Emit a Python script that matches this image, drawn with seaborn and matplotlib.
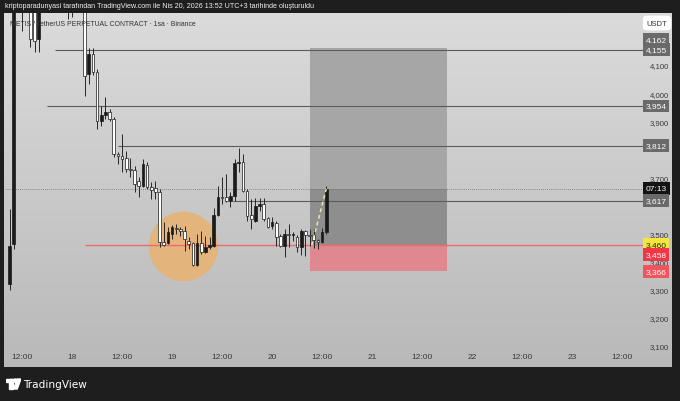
import numpy as np
import pandas as pd
import matplotlib
matplotlib.use('Agg')
import matplotlib.pyplot as plt
import matplotlib.transforms as mtransforms
from matplotlib import font_manager
from matplotlib.colors import LinearSegmentedColormap
from matplotlib.patches import Polygon, Rectangle, Circle
import seaborn as sns

sns.set_theme(style="white")
plt.rcParams['font.family'] = ['DejaVu Sans']

installed = {f.name for f in font_manager.fontManager.ttflist}
narrow = 'Liberation Sans Narrow' if 'Liberation Sans Narrow' in installed else 'Liberation Sans'

# saat: 17 Nisan 00:00'dan itibaren geçen saat (1sa mumlar)
hours = list(range(9, 86))
opens = [3321, 3463, 4310, 4330, 4300, 4320, 4290, 4193, 4300, 4350,
         4330, 4380, 4360, 4340, 4320, 4300, 4310, 4330, 4310, 4068,
         4139, 4075, 3901, 3922, 3933, 3908, 3783, 3776, 3769, 3730,
         3726, 3687, 3669, 3744, 3666, 3662, 3648, 3470, 3466, 3498,
         3520, 3516, 3509, 3473, 3466, 3388, 3466, 3434, 3452, 3456,
         3566, 3630, 3630, 3616, 3634, 3751, 3755, 3652, 3566, 3545,
         3598, 3605, 3555, 3527, 3538, 3491, 3456, 3499, 3495, 3488,
         3452, 3509, 3495, 3495, 3477, 3470, 3506]
highs = [3588, 4400, 4420, 4390, 4360, 4350, 4310, 4330, 4380, 4390,
         4410, 4400, 4390, 4370, 4350, 4340, 4360, 4350, 4320, 4160,
         4160, 4086, 3954, 3986, 3943, 3915, 3790, 3854, 3794, 3769,
         3740, 3701, 3765, 3755, 3684, 3687, 3659, 3541, 3523, 3531,
         3534, 3523, 3527, 3488, 3470, 3499, 3509, 3491, 3488, 3590,
         3669, 3701, 3712, 3648, 3765, 3805, 3783, 3659, 3623, 3627,
         3627, 3627, 3559, 3559, 3545, 3499, 3516, 3534, 3506, 3495,
         3516, 3512, 3516, 3516, 3481, 3520, 3669]
lows = [3300, 3445, 4290, 4221, 4288, 4164, 4146, 4146, 4295, 4310,
        4320, 4330, 4310, 4300, 4264, 4271, 4295, 4290, 3990, 4032,
        4064, 3872, 3883, 3908, 3901, 3773, 3748, 3719, 3719, 3701,
        3648, 3630, 3666, 3659, 3623, 3623, 3452, 3456, 3463, 3481,
        3499, 3491, 3438, 3445, 3385, 3385, 3427, 3431, 3445, 3452,
        3562, 3605, 3612, 3595, 3616, 3719, 3648, 3545, 3516, 3541,
        3580, 3545, 3520, 3516, 3456, 3452, 3417, 3452, 3474, 3434,
        3424, 3420, 3456, 3449, 3445, 3466, 3499]
closes = [3456, 4310, 4330, 4300, 4320, 4193, 4185, 4300, 4350, 4330,
          4380, 4360, 4340, 4320, 4300, 4310, 4330, 4310, 4061, 4139,
          4075, 3901, 3922, 3933, 3908, 3783, 3776, 3765, 3730, 3726,
          3676, 3669, 3748, 3666, 3655, 3648, 3470, 3459, 3506, 3523,
          3516, 3509, 3481, 3463, 3388, 3466, 3434, 3452, 3459, 3566,
          3630, 3627, 3616, 3634, 3751, 3755, 3652, 3563, 3552, 3598,
          3605, 3552, 3524, 3541, 3488, 3456, 3499, 3495, 3498, 3452,
          3509, 3495, 3491, 3477, 3470, 3506, 3659]

# yatay seviyeler (fiyat, başladığı saat)
level_prices = [4155, 3954, 3812, 3617]
level_starts = [20, 18, 35, 62.5]
red_level = 3460
red_start = 27

# long pozisyon aracı
pos_start, pos_end = 81, 114
pos_target, pos_entry, pos_stop = 4162, 3458, 3366

# turuncu daire
circle_t, circle_p = 50.6, 3456

xtick_pos = [12, 24, 36, 48, 60, 72, 84, 96, 108, 120, 132, 144, 156]
xtick_labels = ['12:00', '18', '12:00', '19', '12:00', '20', '12:00',
                '21', '12:00', '22', '12:00', '23', '12:00']
# etiket kutularinin altinda kalanlar (3600, 3800, 4200) yazilmiyor
ytick_pos = [3100, 3200, 3300, 3400, 3500, 3700, 3900, 4000, 4100]

df = pd.DataFrame({'t': hours, 'o': opens, 'h': highs, 'l': lows, 'c': closes})
last_close = closes[-1]

W, H = 680, 402
fig = plt.figure(figsize=(6.8, 4.02), dpi=100, facecolor='#1e1e1e')

# panel arka plani (gradyan)
bg = fig.add_axes([4 / W, 1 - 368 / H, 668 / W, 354 / H])
cmap = LinearSegmentedColormap.from_list('bg', ['#dbdbdb', '#b9b9b9'])
bg.imshow(np.linspace(0, 1, 256).reshape(-1, 1), cmap=cmap, aspect='auto')
bg.axis('off')

ax = fig.add_axes([5 / W, 1 - 350 / H, 638 / W, 336 / H])
ax.set_facecolor('none')
ax.set_xlim(7.9, 161)
ax.set_ylim(3089, 4285)

# pozisyon kutusu
ax.fill_between([pos_start, pos_end], pos_entry, pos_target, color='#a6a6a6', lw=0, zorder=1)
ax.fill_between([pos_start, pos_end], pos_entry, last_close, color='#8e8e8e', lw=0, zorder=1.1)
ax.fill_between([pos_start, pos_end], pos_stop, pos_entry, color='#e0878f', lw=0, zorder=1)

# daire
sns.scatterplot(x=[circle_t], y=[circle_p], s=2500, color='#e3b47c', linewidth=0,
                ax=ax, zorder=1.5, legend=False)

# seviyeler
xmax = ax.get_xlim()[1]
for p, s in zip(level_prices, level_starts):
    ax.hlines(p, s, xmax, color='#5c5c5c', lw=0.8, zorder=2)
ax.hlines(red_level, red_start, xmax, color='#ef6b6b', lw=1.0, zorder=2.2)
ax.hlines(last_close, ax.get_xlim()[0], xmax, color='#6e6e6e', lw=0.6,
          linestyles=(0, (1, 1.5)), zorder=2)

# mumlar
up = df.c >= df.o
ax.vlines(df.t, df.l, df.h, color='#262626', lw=0.7, zorder=3)
bottom = np.minimum(df.o, df.c)
height = np.maximum((df.c - df.o).abs(), 3)
ax.bar(df.t[up], height[up], bottom=bottom[up], width=0.62, color='#1a1a1a',
       edgecolor='#1a1a1a', lw=0.5, zorder=4)
ax.bar(df.t[~up], height[~up], bottom=bottom[~up], width=0.62, color='white',
       edgecolor='#1a1a1a', lw=0.5, zorder=4)

# giris -> son fiyat kesikli cizgi
ax.plot([pos_start + 0.5, hours[-1]], [pos_entry, last_close], color='#ece5a8',
        lw=1.1, ls=(0, (2.5, 2)), zorder=5)

for sp in ax.spines.values():
    sp.set_visible(False)
ax.yaxis.tick_right()
ax.set_yticks(ytick_pos)
ax.set_yticklabels([f'{v:,}' for v in ytick_pos], family=narrow)
ax.set_xticks(xtick_pos)
ax.set_xticklabels(xtick_labels, family=narrow)
ax.tick_params(axis='y', length=0, pad=5, labelsize=5.6, labelcolor='#3a3a3a')
ax.tick_params(axis='x', length=0, pad=3, labelsize=6, labelcolor='#3a3a3a')
ax.grid(False)

# fiyat etiketleri
trans = mtransforms.blended_transform_factory(ax.transAxes, ax.transData)
tags = [('4,162', pos_target, '#6a6a6a', 'white', 6),
        ('4,155', level_prices[0], '#6a6a6a', 'white', 0),
        ('3,954', level_prices[1], '#6a6a6a', 'white', 0),
        ('3,812', level_prices[2], '#6a6a6a', 'white', 0),
        ('07:13', last_close, '#131313', 'white', 0),
        ('3,617', level_prices[3], '#6a6a6a', 'white', 0),
        ('3,460', red_level, '#f5e63c', '#222222', 0),
        ('3,458', pos_entry, '#f23645', 'white', -6.5),
        ('3,366', pos_stop, '#f0545c', 'white', 0)]
for txt, p, fc, tc, off in tags:
    ax.annotate(txt, xy=(1.0205, p), xycoords=trans, xytext=(0, off),
                textcoords='offset points', ha='center', va='center',
                fontsize=6, family=narrow, color=tc, zorder=10, annotation_clip=False,
                bbox=dict(boxstyle='square,pad=0.35', fc=fc, ec='none'))

fig.text(657 / W, 1 - 24 / H, 'USDT', ha='center', va='center', fontsize=5.5,
         family=narrow, color='#333333',
         bbox=dict(boxstyle='round,pad=0.5', fc='white', ec='none'))

top_txt = fig.text(5 / W, 1 - 7 / H, 'kriptoparadunyasi tarafından TradingView.com ile Nis 20, '
                   '2026 13:52 UTC+3 tarihinde oluşturuldu', ha='left', va='center',
                   fontsize=6, family=narrow, color='#f0f0f0')
leg_txt = fig.text(10 / W, 1 - 24 / H, 'METIS / TetherUS PERPETUAL CONTRACT · 1sa · Binance',
                   ha='left', va='center', fontsize=6, family=narrow, color='#333333')

# TradingView logosu
logo = fig.add_axes([6 / W, 1 - 392 / H, 15 / W, 14 / H])
logo.set_xlim(0, 15)
logo.set_ylim(14, 0)
logo.axis('off')
logo.add_patch(Rectangle((0, 2), 6.5, 3.2, color='white'))
logo.add_patch(Rectangle((3.3, 2), 3.2, 10, color='white'))
logo.add_patch(Circle((9.2, 3.6), 1.6, color='white'))
logo.add_patch(Polygon([[11.2, 2], [15, 2], [11.2, 12], [7.6, 12]], color='white'))
tv_txt = fig.text(23 / W, 1 - 385 / H, 'TradingView', ha='left', va='center', fontsize=9.5,
                  color='white', fontweight='medium')

# metinleri referanstaki genisliklere yaklastir (font daha genis oldugu icin biraz pay)
fig.canvas.draw()
renderer = fig.canvas.get_renderer()
for t, target in [(top_txt, 315), (leg_txt, 188), (tv_txt, 64)]:
    w = t.get_window_extent(renderer).width
    t.set_fontsize(t.get_fontsize() * target / w)

fig.savefig('out.png', dpi=100, facecolor=fig.get_facecolor())
